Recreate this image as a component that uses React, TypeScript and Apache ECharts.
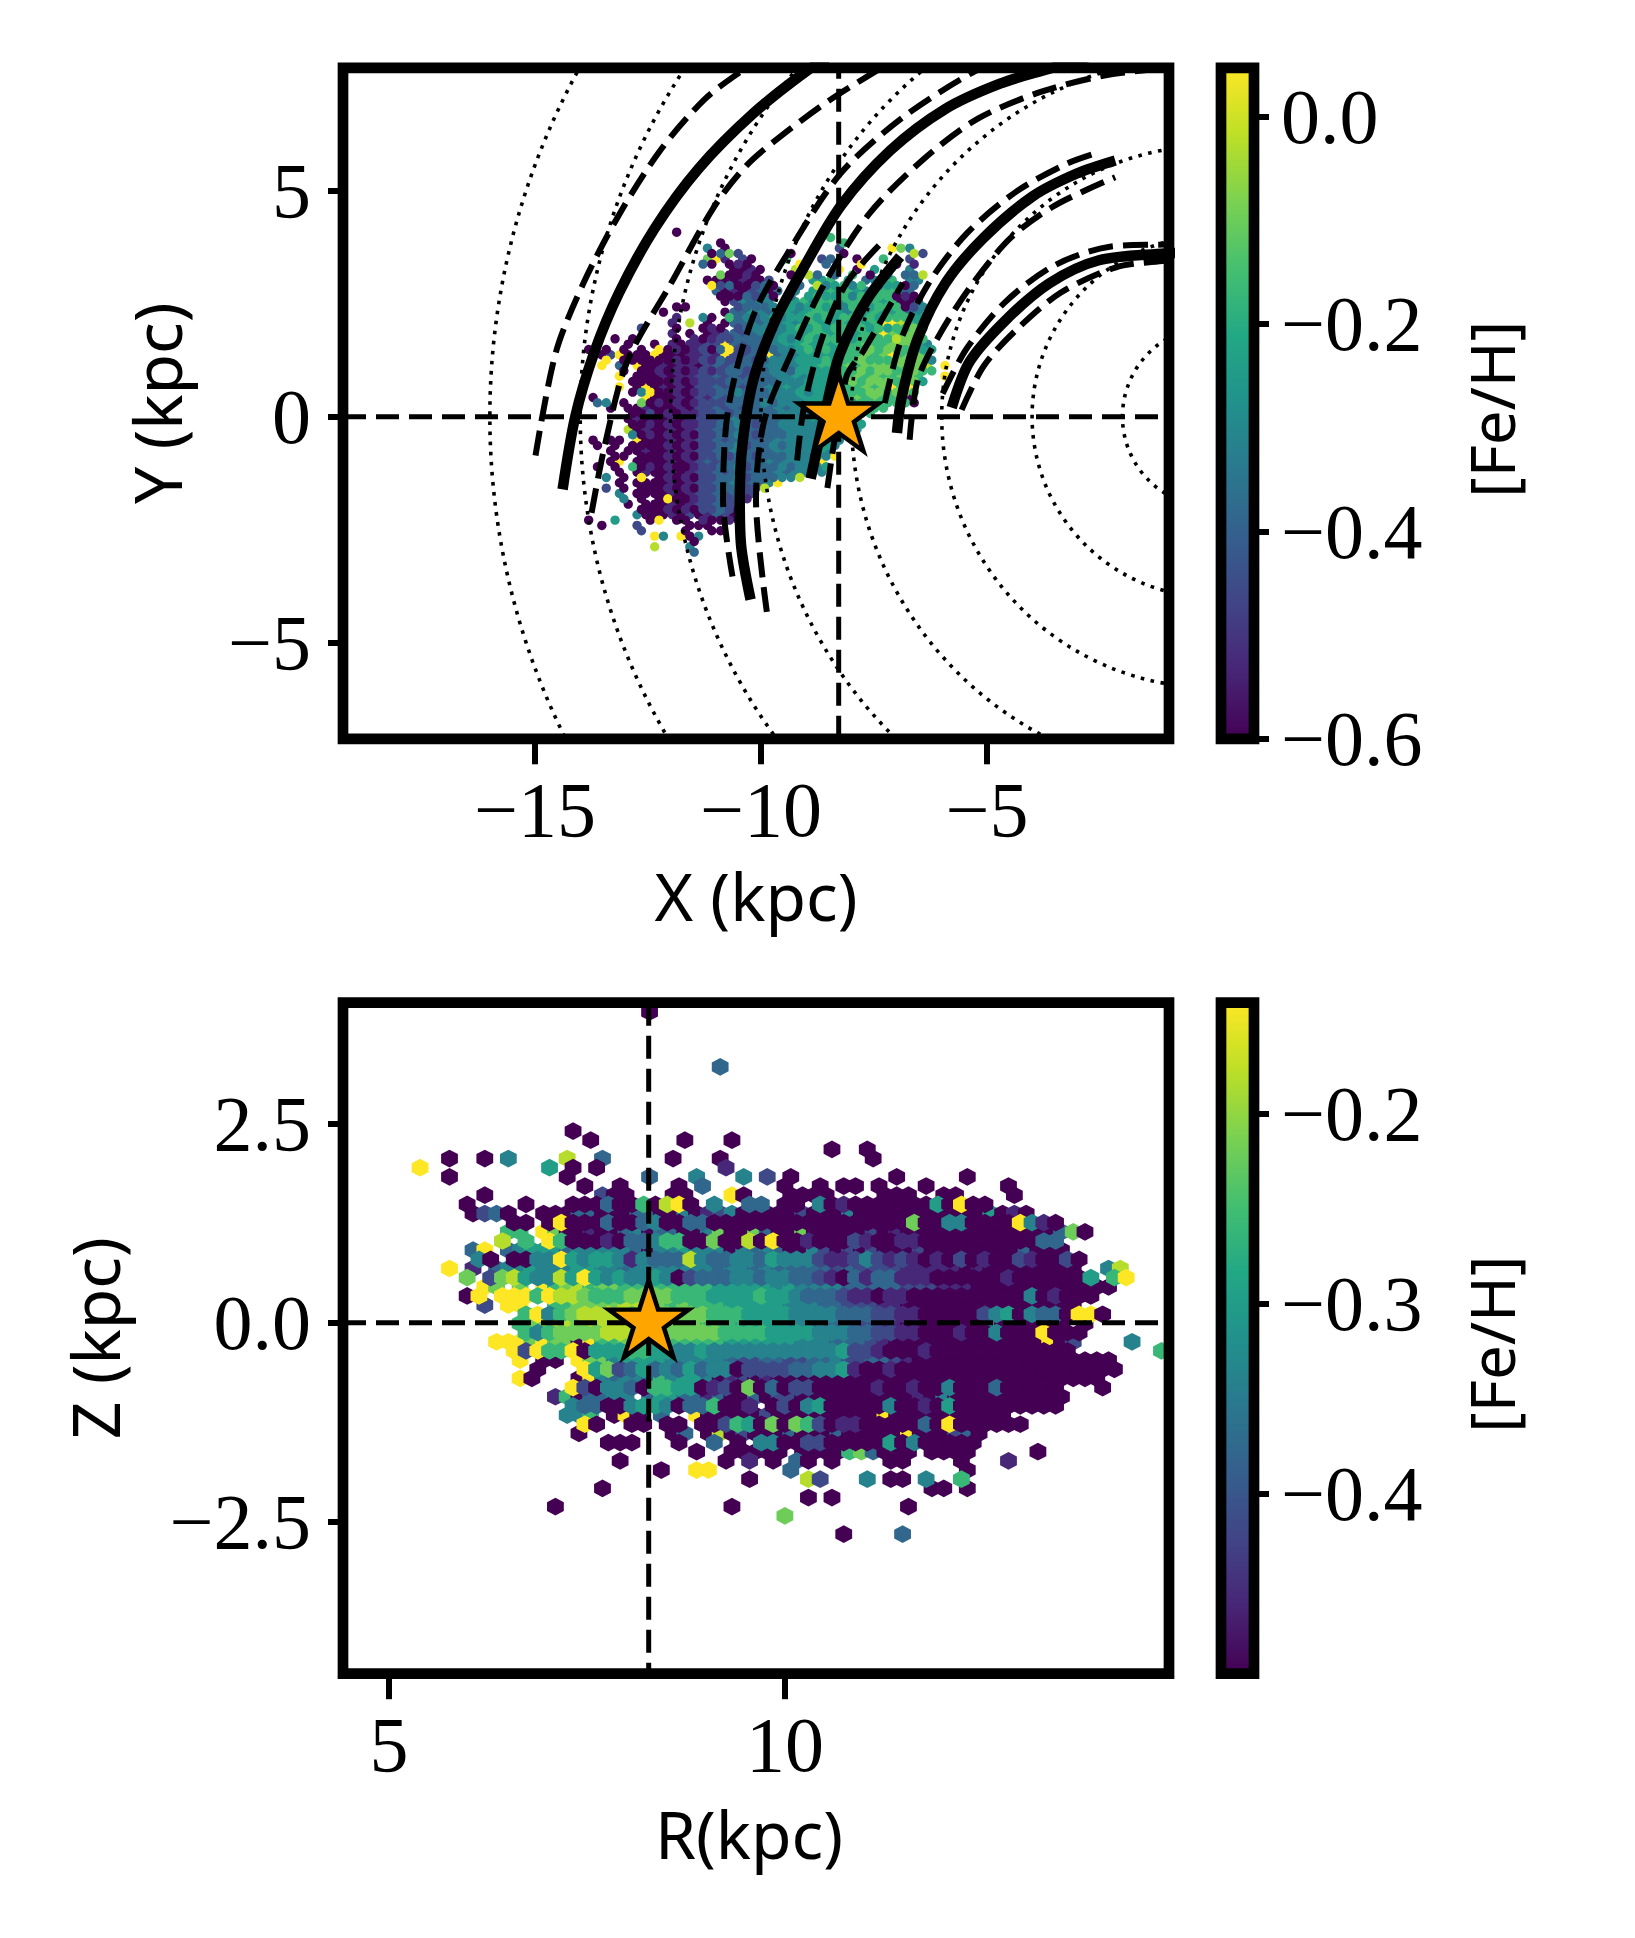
import React, { useEffect, useRef } from "react";
import * as echarts from "echarts";

// ---- axis ticks
const xyXTicks = [-15, -10, -5];
const xyYTicks = [-5, 0, 5];
const rzXTicks = [5, 10];
const rzYTicks = [-2.5, 0, 2.5];
const feh1Ticks = [-0.6, -0.4, -0.2, 0];
const feh2Ticks = [-0.4, -0.3, -0.2];
const sunX = -8.28;
const sunR = 8.28;
const dottedRadii = [2, 4, 6, 8, 10, 12, 14, 16];

// ---- spiral arms, read in kpc
const armA = [[-14.39,-1.61],[-14.11,0],[-13.69,1.42],[-13.14,2.74],[-12.35,4.17],[-11.38,5.49],[-10.17,6.71],[-8.96,7.67],[-8.23,8.13]];
const armAOut = [[-14.99,-0.86],[-14.54,1.42],[-13.93,2.95],[-13.14,4.47],[-12.23,5.89],[-11.26,7.01],[-10.47,7.62],[-9.68,8.13]];
const armAIn = [[-13.75,-2.13],[-13.45,-0.61],[-12.96,1.22],[-11.99,2.95],[-11.02,4.67],[-10.29,5.59],[-9.44,6.30],[-8.47,7.01],[-7.50,7.62],[-6.65,8.13]];
const armB = [[-10.23,-4.05],[-10.44,-2.85],[-10.47,-1.83],[-10.41,-0.61],[-10.17,0.81],[-9.68,2.13],[-9.08,3.25],[-8.23,4.67],[-7.14,5.89],[-5.92,6.81],[-4.71,7.37],[-3.62,7.70],[-2.52,8.03]];
const armBOut = [[-10.63,-3.54],[-10.84,-1.83],[-10.72,0.20],[-10.17,2.23],[-9.32,3.76],[-8.23,5.39],[-6.89,6.60],[-5.31,7.62],[-4.10,8.18]];
const armBIn = [[-9.87,-4.32],[-10.11,-1.83],[-9.93,-0.10],[-9.32,1.42],[-8.59,2.95],[-7.62,4.47],[-6.41,5.69],[-5.19,6.60],[-3.74,7.21],[-2.28,7.57],[-1.07,7.70]];
const armC = [[-8.9,-1.37],[-8.52,0.36],[-8.25,1.4],[-7.66,2.58],[-6.92,3.54]];
const armCOut = [[-9.2,-0.97],[-9.05,0.20],[-8.65,1.73],[-8.11,2.95],[-7.32,3.86]];
const armCIn = [[-8.53,-1.58],[-8.11,0.88],[-7.74,1.44],[-6.86,2.96]];
const armD = [[-6.99,-0.36],[-6.89,0.41],[-6.53,1.73],[-5.92,2.95],[-5.07,3.96],[-3.98,4.88],[-3.01,5.38],[-2.16,5.67]];
const armDOut = [[-7.26,0.30],[-6.89,1.73],[-6.29,2.95],[-5.44,4.06],[-4.35,4.98],[-3.25,5.59],[-2.65,5.81]];
const armDIn = [[-6.71,-0.51],[-6.53,0.81],[-6.04,1.83],[-5.31,2.95],[-4.47,3.96],[-3.50,4.67],[-2.16,5.30]];
const armE = [[-5.78,0.20],[-5.38,1.22],[-4.59,2.13],[-3.62,2.95],[-2.52,3.46],[-1.07,3.61],[-0.8,3.62]];
const armEOut = [[-5.98,0.51],[-5.44,1.52],[-4.59,2.54],[-3.50,3.35],[-2.28,3.76],[-1.07,3.81],[-0.8,3.82]];
const armEIn = [[-5.56,0.15],[-5.07,1.12],[-4.34,1.93],[-3.37,2.74],[-2.16,3.30],[-1.07,3.45],[-0.8,3.46]];
const solidArms = [armA, armB, armC, armD, armE];
const dashedArms = [armAOut, armAIn, armBOut, armBIn, armCOut, armCIn, armDOut, armDIn, armEOut, armEIn];

// ---- hex cells: [row, cells]; digit = level 0..9 between colour-bar ends, '.' = empty
const xyCells: [number, string][] = [
[1, ".......... ..0......."],
[2, ".......... .......... .......... 6........."],
[3, ".......... .......0.. .......... .6........"],
[4, ".......... ......4.0. .......... .2.....974"],
[5, ".......... ......0372 .....0.... .0.......8 2"],
[6, ".......... ......791. 20...6...2 3..0..6..2"],
[7, ".......... .....30.01 0.....9..3 ...9...0.1"],
[8, ".......... .........0 010...8... .9.0.5...4"],
[9, ".......... .......700 10...0983. 3.6.0.4.33 8"],
[10, ".......... ......0000 1002..4.55 6.5.3456.4 4"],
[11, ".......... ......9230 0230..3.84 5646.35503"],
[12, ".......... .......301 02303.4.55 6565456633"],
[13, ".......... .......000 3240.3.565 5646566010"],
[14, ".......... ........02 4344.45646 6566465600 3"],
[15, ".......... ..00.....2 3334354565 6464566602 4"],
[16, ".......... .0......03 3543454566 6546565563 4"],
[17, ".......... ..1..40.63 4345455656 5665656665 5"],
[18, ".......... ..1.8.0.03 3434454565 5656569986 5"],
[19, "........2. ..0..010.2 3443456565 6656565667 5"],
[20, ".......... ..1.0.0123 2343455566 5665669767 6"],
[21, ".....0.0.. ..0.101223 3334545656 6656666877 6"],
[22, ".......0.. 0.10112293 2334455656 5666766777 54"],
[23, "..0.0.0.0. 9010120392 2343445656 5666767767 55"],
[24, "....029000 9000112192 2339344555 5666767967 76"],
[25, "....9.0000 0010121322 3234445556 5667666777 74"],
[26, "....9.3.90 0101102323 3334444556 6676777777 78.9"],
[27, "......0.00 1010121233 2334435555 5667677667 66"],
[28, "......9.00 0101122323 2333445455 5667676677 6..9"],
[29, ".......000 0010122233 3333444555 5676777667 5"],
[30, "......9.09 0101022323 2334454555 6566767969"],
[31, ".......049 0010122334 3334445455 5666776776"],
[32, "...0.....9 0001021323 3333444555 5567676670"],
[33, "...34.0.70 1010122233 3343444555 5556666660"],
[34, ".....0.001 0001022323 2333434444 5555566..."],
[35, ".......002 0101122323 2333444444 55566....."],
[36, ".......010 0010122234 3333344455 5566......"],
[37, ".......001 0101122334 3233444445 5555......"],
[38, ".......801 0010122323 3333344444 5555......"],
[39, ".......401 0101022334 3233344444 455......."],
[40, "...0.00.90 0010122323 3333444445 44........"],
[41, "...0.0.000 0101022334 2334344445 4........."],
[42, ".....0.001 0010122334 3333444445 4........."],
[43, ".....00.00 0101022323 3233344444 9........."],
[44, ".....09.00 0010123233 3334344449"],
[45, "...0.0.601 0100122334 2333434445"],
[46, "......0.01 0010122323 3333434444"],
[47, "....4.0.9. 0101022334 2333448..."],
[48, "......0.00 0010122334 23349....."],
[49, "....2.0.00 0101022334 228......."],
[50, "......4.00 0010122323 22........"],
[51, "......4.0. 0900122323 1........."],
[52, ".......0.0 0010122322"],
[53, "........00 0101022320"],
[54, "........40 0010201320"],
[55, "..0..5...0 9.00.10010"],
[56, "....0...2. ....000..."],
[57, "........2. ...0..00.."],
[58, ".......... 94.904...."],
[59, ".......... ....0....."],
[60, ".......... 8...4....."],
[61, ".......... ....3....."],
];

const rzCells: [number, string][] = [
[-16, ".......... .......... .....0"],
[-10, ".......... .......... .......... .3"],
[-3, ".......... ........0."],
[-2, ".......... .......... 0.......0. ..0"],
[-1, ".......... .......... .......... .......... 0..0"],
[0, "........0. .0.4....8. .3.....0.. .0........ ....0"],
[1, ".....9.... ......5.0. 0......... .1"],
[2, "........0. ........0. .....3...4 ...4.2.0.. ......0... ..0"],
[3, ".......... .........0 ..0....0.3 ......0..0 .00.0...0. .....0"],
[4, ".......... .0........ .200...00. ..90...000 0....000.. 00....0"],
[5, ".........0 ....0...00 030060890. 4..33.00.4 0100000005 0900"],
[6, ".......... 0230..0003 3000330040 1240000020 0040000000 00005010"],
[7, ".......... ...00.0900 0300340033 0000000000 0000000700 4400009410"],
[8, ".......... ...66.9700 1003403300 4700730070 0000201000 0000000000 370"],
[9, ".......... ..8.6.9600 0103346600 7008090010 0021001100 0000000033"],
[10, ".......... 39.3455534 4444304454 4404343004 2020200020 0000000300 0"],
[11, ".......... 40.0044954 5541433384 3344354442 1124212101 0201002100 20"],
[12, "........9. 1.34454445 5443444444 4344343333 3232222111 1101000000 00..48"],
[13, ".........7 .278544859 5454454023 3344344332 1031331110 0000010000 005.69"],
[14, ".......... .97.7.9678 6776666666 6555554544 4433333222 1110000000 00000"],
[15, ".........0 9.99969887 6667777666 5555655433 3211011000 0000000401 000"],
[16, ".......... .2.99..667 7778887676 6655555444 3322211000 0000000000 00"],
[17, ".......... ....694678 8887777777 6665555444 4333221100 0002450433 0990"],
[18, ".......... ....677887 8888877777 6665555443 3332211000 0000400000 0.0"],
[19, ".......... ....646777 7888877777 7666655554 4433221100 0100400090 00"],
[20, ".......... ..99979770 9667777666 6655555544 4333210000 0000000009 02....4"],
[21, ".......... ...9296690 5556655445 4444444444 4522100010 0000000000 0.......6"],
[22, ".......... ....9.00.9 7745555444 4432233223 3422332100 0000000000 00000"],
[23, ".......... .....0...9 5723534353 4402222334 4510010000 0000000000 00000"],
[24, ".......... ....90...0 9434436455 4012010000 0000000000 0000000000 0000"],
[25, ".......... ........92 0443066550 1207030220 0000100100 4000300000 ...0"],
[26, ".......... .......160 3344.35533 1300302200 0000000010 4000000000 0"],
[27, ".......... ........43 3004554033 6001.02045 0000040010 5000000000"],
[28, ".......... ........44 6.090.3..9 0000020000 0000090000 000000"],
[29, ".......... .........9 0..00.00.0 0265070762 0110000030 9000000"],
[30, ".......... .........0 .......03. 0802000300 0300000900 0230"],
[31, ".......... .......... .000...0.. 3.0.440022 0000050400 000"],
[32, ".......... .......... .........0 ..00000.00 00673000.0 000.....0"],
[33, ".......... .......... ..0....... .0.1.0.30. 0....00... .0...1"],
[34, ".......... .......... ......0..9 9......3.. .......... ..0"],
[35, ".......... .......... .......... ...0....82 ...4.00.4. .6"],
[36, ".......... .......... .0........ .......... .........0 0.0"],
[37, ".......... .......... .......... ........0. 0"],
[38, ".......... .......0.. .......... ..0....... .......0"],
[39, ".......... .......... .......... ......7"],
[41, ".......... .......... .......... .......... .0....3"],
];

const FE1: [number, number] = [-0.6, 0.0468];
const FE2: [number, number] = [-0.495, -0.1415];
const XLIM1: [number, number] = [-19.25, -0.97];
const YLIM1: [number, number] = [-7.13, 7.72];
const XLIM2: [number, number] = [4.42, 14.85];
const YLIM2: [number, number] = [-4.41, 4.02];

const viridis = ["#440154","#482576","#414487","#355f8d","#2a788e","#21918c","#22a884","#44bf70","#7ad151","#bddf26","#fde725"];
const hex2rgb = (h: string) => [1, 3, 5].map((i) => parseInt(h.slice(i, i + 2), 16));
const viridisAt = (t: number) => {
  const f = Math.max(0, Math.min(1, t)) * 10;
  const i = Math.min(9, Math.floor(f));
  const a = hex2rgb(viridis[i]);
  const b = hex2rgb(viridis[i + 1]);
  const c = a.map((v, n) => Math.round(v + (b[n] - v) * (f - i)));
  return `rgb(${c[0]},${c[1]},${c[2]})`;
};

function cellsToData(rows: [number, string][], x0: number, dx: number, y0: number, dy: number, fe: [number, number]) {
  const even: number[][] = [];
  const odd: number[][] = [];
  rows.forEach(([r, raw]) => {
    const s = raw.replace(/ /g, "");
    const isOdd = Math.abs(r) % 2 === 1;
    for (let c = 0; c < s.length; c++) {
      if (s[c] === ".") continue;
      const v = fe[0] + (Number(s[c]) / 9) * (fe[1] - fe[0]);
      (isOdd ? odd : even).push([x0 + dx * (c + (isOdd ? 0.5 : 0)), y0 - dy * r, v]);
    }
  });
  return even.concat(odd);
}

const xyData = cellsToData(xyCells, -14.3, 0.1947, 4.2, 0.118, FE1);
const rzData = cellsToData(rzCells, 4.576, 0.1486, 2.062, 0.1151, FE2);

const STAR = "path://M0 -1000L224 -309L951 -309L363 118L588 809L0 382L-588 809L-363 118L-951 -309L-224 -309Z";
const INK = "#000";
const SERIF = "'Liberation Serif', serif";
const SANS = "'Noto Sans', sans-serif";
const TICK_FS = 78;
const NAME_FS = 66;
const fmt0 = (v: number) => String(v).replace("-", "\u2212");
const fmt1 = (v: number) => v.toFixed(1).replace("-", "\u2212");

const L = 343, W = 826, H = 671, T1 = 67.8, T2 = 1002.7, CL = 1221, CW = 33;
const SP = 10.7;

function hexSeries(data: number[][], ax: number, fe: [number, number], size: number, round: boolean) {
  return {
    type: "custom",
    xAxisIndex: ax,
    yAxisIndex: ax,
    clip: true,
    silent: true,
    z: 2,
    data,
    encode: { x: 0, y: 1 },
    renderItem: (_: any, api: any) => {
      const p = api.coord([api.value(0), api.value(1)]);
      const r = api.size([size, size]);
      const fill = viridisAt((api.value(2) - fe[0]) / (fe[1] - fe[0]));
      if (round) {
        return { type: "circle", shape: { cx: p[0], cy: p[1], r: r[0] }, style: { fill } };
      }
      const a = r[0], b = r[1] * 1.05;
      return {
        type: "polygon",
        shape: { points: [[p[0], p[1] - b], [p[0] + a, p[1] - b / 2], [p[0] + a, p[1] + b / 2], [p[0], p[1] + b], [p[0] - a, p[1] + b / 2], [p[0] - a, p[1] - b / 2]] },
        style: { fill },
      };
    },
  };
}

function refLine(data: number[][], ax: number) {
  return {
    type: "line", xAxisIndex: ax, yAxisIndex: ax, data, symbol: "none", silent: true, z: 6,
    lineStyle: { color: INK, width: 5, type: [23, 10] as any, cap: "butt" },
  };
}
function starSeries(p: number[], ax: number) {
  return {
    type: "scatter", xAxisIndex: ax, yAxisIndex: ax, data: [p], symbol: STAR, symbolSize: [80, 77], symbolOffset: [0, -4], silent: true, z: 10,
    itemStyle: { color: "#ffa500", borderColor: INK, borderWidth: 4.5, opacity: 1 },
  };
}
function barSeries(ax: number, fe: [number, number]) {
  return {
    type: "custom", xAxisIndex: ax, yAxisIndex: ax, silent: true, clip: true, z: 2,
    data: [[0, fe[0], fe[1]]],
    renderItem: (_: any, api: any) => {
      const a = api.coord([0, api.value(2)]);
      const b = api.coord([1, api.value(1)]);
      return {
        type: "rect",
        shape: { x: a[0], y: a[1], width: b[0] - a[0], height: b[1] - a[1] },
        style: { fill: new echarts.graphic.LinearGradient(0, 1, 0, 0, viridis.map((color, i) => ({ offset: i / 10, color }))) },
      };
    },
  };
}
function valueAxis(pos: string, lim: [number, number], ticks: number[], fmt: (v: number) => string, name: string, nameGap: number, tickLen: number, gridIndex: number, margin: number, labelPad: number, nameFs: number, namePad: number[], nameRotate?: number) {
  return {
    type: "value", gridIndex, position: pos, min: lim[0], max: lim[1], scale: true,
    name, nameLocation: "middle", nameGap, nameRotate,
    nameTextStyle: { fontFamily: SANS, fontSize: nameFs, color: INK, padding: namePad },
    splitLine: { show: false },
    axisLine: { show: false, onZero: false },
    axisTick: { show: true, inside: false, length: tickLen, customValues: ticks, lineStyle: { color: INK, width: 6 } },
    axisLabel: { show: true, customValues: ticks, formatter: fmt, margin, padding: [labelPad, 0, 0, 0], fontFamily: SERIF, fontSize: TICK_FS, color: INK, hideOverlap: false },
  };
}
const frame = (x: number, y: number, w: number, h: number) => ({
  type: "rect", z: 50, silent: true,
  shape: { x, y, width: w, height: h },
  style: { fill: "none", stroke: INK, lineWidth: SP },
});

export default function App() {
  const ref = useRef<HTMLDivElement>(null);
  useEffect(() => {
    const chart = echarts.init(ref.current!, null, { renderer: "svg", width: 1635, height: 1938 });
    const option: any = {
      animation: false,
      backgroundColor: "#fff",
      grid: [
        { left: L, top: T1, width: W, height: H },
        { left: L, top: T2, width: W, height: H },
        { left: CL, top: T1, width: CW, height: H },
        { left: CL, top: T2, width: CW, height: H },
      ],
      xAxis: [
        valueAxis("bottom", XLIM1, xyXTicks, fmt0, "X (kpc)", 123, 25.5, 0, 32, 0, NAME_FS, [0, 0, 0, 0]),
        valueAxis("bottom", XLIM2, rzXTicks, fmt0, "R(kpc)", 126, 25.5, 1, 32, 0, NAME_FS, [0, 14, 0, 0]),
        { type: "value", gridIndex: 2, min: 0, max: 1, show: false },
        { type: "value", gridIndex: 3, min: 0, max: 1, show: false },
      ],
      yAxis: [
        valueAxis("left", YLIM1, xyYTicks, fmt0, "Y (kpc)", 154, 15, 0, 32, 9, NAME_FS, [0, 0, 0, 0]),
        valueAxis("left", YLIM2, rzYTicks, fmt1, "Z (kpc)", 216, 15, 1, 32, 9, NAME_FS, [0, 0, 0, 0]),
        valueAxis("right", FE1, feh1Ticks, fmt1, "[Fe/H]", 206, 15, 2, 27, 10, 62, [0, 12, 0, 0], 90),
        valueAxis("right", FE2, feh2Ticks, fmt1, "[Fe/H]", 206, 15, 3, 27, 10, 62, [0, 12, 0, 0], 90),
      ],
      graphic: [frame(L, T1, W, H), frame(L, T2, W, H), frame(CL, T1, CW, H), frame(CL, T2, CW, H)],
      series: [
        hexSeries(xyData, 0, FE1, 0.104, true),
        hexSeries(rzData, 1, FE2, 0.106, false),
        barSeries(2, FE1),
        barSeries(3, FE2),
        {
          type: "custom", xAxisIndex: 0, yAxisIndex: 0, clip: true, silent: true, z: 3,
          data: dottedRadii.map((r) => [0, 0, r]),
          encode: { x: 0, y: 1 },
          renderItem: (_: any, api: any) => {
            const c = api.coord([0, 0]);
            const s = api.size([api.value(2), api.value(2)]);
            return { type: "circle", shape: { cx: c[0], cy: c[1], r: s[0] }, style: { fill: "none", stroke: INK, lineWidth: 3.6, lineDash: [3.6, 6.5] } };
          },
        },
        ...solidArms.map((d) => ({
          type: "line", xAxisIndex: 0, yAxisIndex: 0, data: d, smooth: 0.3, symbol: "none", silent: true, z: 5, clip: true,
          lineStyle: { color: INK, width: 10.5, cap: "butt" },
        })),
        ...dashedArms.map((d) => ({
          type: "line", xAxisIndex: 0, yAxisIndex: 0, data: d, smooth: 0.3, symbol: "none", silent: true, z: 5, clip: true,
          lineStyle: { color: INK, width: 6, type: [25, 10], cap: "butt" },
        })),
        refLine([[XLIM1[0], 0], [XLIM1[1], 0]], 0),
        refLine([[sunX, YLIM1[0]], [sunX, YLIM1[1]]], 0),
        refLine([[XLIM2[0], 0], [XLIM2[1], 0]], 1),
        refLine([[sunR, YLIM2[1]], [sunR, YLIM2[0]]], 1),
        starSeries([sunX, 0], 0),
        starSeries([sunR, 0], 1),
      ],
    };
    chart.setOption(option);
    return () => chart.dispose();
  }, []);
  return <div ref={ref} style={{ position: "fixed", left: 0, top: 0, width: 1635, height: 1938, background: "#fff" }} />;
}
